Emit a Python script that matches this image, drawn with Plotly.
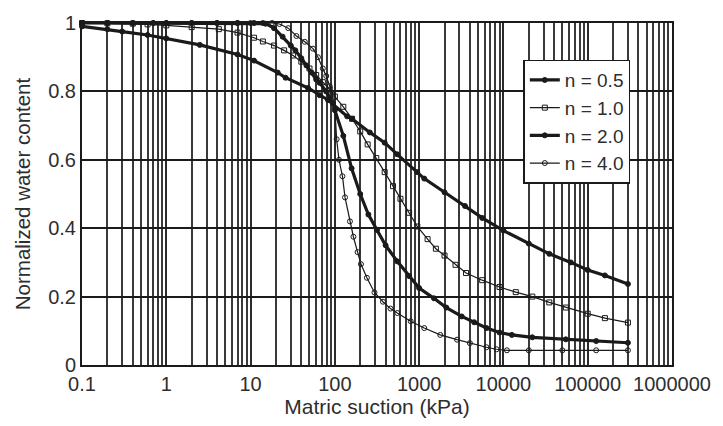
import plotly.graph_objects as go

# Matric suction (kPa) and normalized water content for each curve-fit exponent n
suction_n05 = [0.1, 0.2, 0.3, 0.6, 1, 2.5, 7, 11, 21, 26, 48, 66, 83, 140, 160, 260,
               390, 550, 950, 1150, 2000, 3500, 5600, 10000, 20000, 35000, 63000,
               100000, 160000, 300000]
theta_n05 = [0.99, 0.982, 0.975, 0.965, 0.955, 0.936, 0.908, 0.89, 0.855, 0.84, 0.81,
             0.789, 0.775, 0.727, 0.72, 0.68, 0.65, 0.616, 0.564, 0.545, 0.505, 0.465,
             0.43, 0.393, 0.355, 0.325, 0.3, 0.278, 0.262, 0.237]

suction_n10 = [0.1, 0.2, 0.4, 0.6, 1, 2, 4.2, 7, 11, 14, 19, 25, 32, 40, 50, 60, 72, 87,
               100, 126, 160, 200, 245, 310, 390, 490, 600, 760, 950, 1260, 1580, 2000,
               2700, 3600, 5600, 9000, 14000, 22000, 35000, 55000, 100000, 160000, 300000]
theta_n10 = [1.0, 0.999, 0.998, 0.996, 0.993, 0.988, 0.982, 0.972, 0.957, 0.946, 0.934,
             0.92, 0.905, 0.887, 0.867, 0.848, 0.827, 0.805, 0.785, 0.755, 0.72, 0.683,
             0.645, 0.605, 0.564, 0.523, 0.486, 0.445, 0.405, 0.368, 0.34, 0.32, 0.293,
             0.269, 0.248, 0.228, 0.213, 0.2, 0.183, 0.168, 0.15, 0.137, 0.124]

suction_n20 = [0.1, 0.2, 0.4, 0.7, 1, 2, 4, 7, 11, 15, 19, 24, 30, 34, 40, 46, 53, 60, 66,
               79, 95, 100, 126, 158, 200, 250, 316, 400, 550, 760, 1000, 1500, 2100,
               3200, 4500, 6300, 9000, 12600, 22000, 55000, 126000, 300000]
theta_n20 = [1.0, 1.0, 1.0, 1.0, 1.0, 1.0, 1.0, 1.0, 1.0, 0.998, 0.985, 0.96, 0.934, 0.92,
             0.897, 0.876, 0.855, 0.835, 0.825, 0.8, 0.765, 0.745, 0.67, 0.575, 0.5, 0.44,
             0.395, 0.35, 0.303, 0.26, 0.225, 0.195, 0.168, 0.142, 0.125, 0.108, 0.095,
             0.088, 0.081, 0.075, 0.07, 0.065]

suction_n40 = [0.1, 0.2, 0.4, 0.7, 1, 2, 4, 7, 10, 14, 18, 22, 28, 35, 44, 55, 63, 72, 79,
               87, 93, 100, 105, 112, 123, 132, 151, 166, 186, 204, 240, 295, 372, 457,
               550, 794, 1150, 1780, 2820, 4000, 6300, 8300, 11000, 20000, 50000, 126000,
               300000]
theta_n40 = [1.0, 1.0, 1.0, 1.0, 1.0, 1.0, 1.0, 1.0, 1.0, 1.0, 1.0, 0.997, 0.985, 0.962,
             0.945, 0.925, 0.9, 0.867, 0.845, 0.815, 0.79, 0.75, 0.66, 0.6, 0.552, 0.49,
             0.42, 0.375, 0.33, 0.295, 0.255, 0.212, 0.185, 0.165, 0.152, 0.128, 0.108,
             0.088, 0.074, 0.064, 0.052, 0.046, 0.043, 0.043, 0.043, 0.043, 0.043]

x_tick_vals = [0.1, 1, 10, 100, 1000, 10000, 100000, 1000000]
x_tick_text = ["0.1", "1", "10", "100", "1000", "10000", "100000", "1000000"]
y_tick_vals = [0, 0.2, 0.4, 0.6, 0.8, 1.0]
y_tick_text = ["0", "0.2", "0.4", "0.6", "0.8", "1"]

INK = "#1a1a1a"
TEXT = "#2e2e2e"
FONT = "Liberation Sans, Arial, sans-serif"

series = [
    ("n = 0.5", suction_n05, theta_n05, 3.2, "circle", 5),
    ("n = 1.0", suction_n10, theta_n10, 1.2, "square-open", 5),
    ("n = 2.0", suction_n20, theta_n20, 3.2, "circle", 5),
    ("n = 4.0", suction_n40, theta_n40, 1.2, "circle-open", 5),
]

fig = go.Figure()
for i, (name, xs, ys, lw, sym, ms) in enumerate(series):
    fig.add_trace(go.Scatter(
        x=xs, y=ys, name=name, mode="lines+markers",
        line=dict(color=INK, width=lw),
        marker=dict(symbol=sym, size=ms, color=INK, line=dict(color=INK, width=1)),
        cliponaxis=False, legendgroup=f"g{i}",
    ))

fig.update_layout(
    width=723, height=426,
    margin=dict(l=82, r=46, t=22, b=58),
    paper_bgcolor="white", plot_bgcolor="white",
    font=dict(family=FONT, size=20, color=TEXT),
    showlegend=True,
    legend=dict(
        x=0.748, y=0.893, xanchor="left", yanchor="top",
        bgcolor="white", bordercolor=INK, borderwidth=1.5,
        font=dict(family=FONT, size=19, color=TEXT),
        tracegroupgap=0, itemwidth=30,
    ),
)

fig.update_xaxes(
    type="log", range=[-1, 6],
    tickmode="array", tickvals=x_tick_vals, ticktext=x_tick_text,
    ticks="", showgrid=True, gridcolor="#2b2b2b", gridwidth=1.6,
    minor=dict(dtick="D1", showgrid=True, gridcolor="#3a3a3a", gridwidth=1.6, ticks=""),
    showline=True, linecolor=INK, linewidth=2, mirror=True,
    zeroline=False,
    tickfont=dict(size=20),
    title=dict(text="Matric suction (kPa)", font=dict(size=21), standoff=4),
)
fig.update_yaxes(
    range=[0, 1],
    tickmode="array", tickvals=y_tick_vals, ticktext=y_tick_text,
    ticks="", showgrid=True, gridcolor=INK, gridwidth=2,
    showline=True, linecolor=INK, linewidth=2, mirror=True,
    zeroline=False,
    tickfont=dict(size=20),
    title=dict(text="Normalized water content", font=dict(size=20.5), standoff=12),
)

fig.write_html("out.html")
